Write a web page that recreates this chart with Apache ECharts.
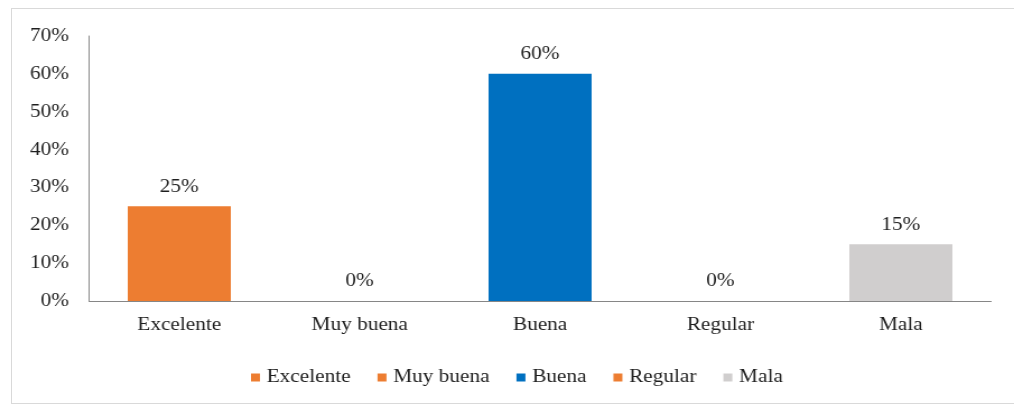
<!DOCTYPE html>
<html>
<head>
<meta charset="utf-8">
<script src="https://cdn.jsdelivr.net/npm/echarts@6/dist/echarts.min.js"></script>
<style>
  html, body { margin: 0; padding: 0; background: #fff; overflow: hidden; }
  #frame { position: absolute; left: 11px; top: 8px; width: 1010px; height: 396px; border: 1px solid #d9d9d9; box-sizing: border-box; }
  /* the chart is laid out narrower and widened on screen, giving the wide serif lettering */
  #chart { position: absolute; left: 0; top: 0; width: 905px; height: 409px; transform: scaleX(1.1205); transform-origin: 0 0; }
</style>
</head>
<body>
<div id="frame"></div>
<div id="chart"></div>
<script>
// Rating categories and their share of responses (%)
const categories = ['Excelente', 'Muy buena', 'Buena', 'Regular', 'Mala'];
const values = [25, 0, 60, 0, 15];
const colors = ['#ED7D31', '#ED7D31', '#0070C0', '#ED7D31', '#D0CECE'];
const yTicks = [0, 10, 20, 30, 40, 50, 60, 70];

const font = 'Liberation Serif';
const ink = '#1e1e1e';

// One series per category so each gets its own legend entry;
// barGap -100% keeps them centred on their category slot.
const series = categories.map((name, i) => ({
  name: name,
  type: 'bar',
  barWidth: 92,
  barGap: '-100%',
  itemStyle: { color: colors[i] },
  label: {
    show: true,
    position: 'top',
    distance: 10,
    formatter: p => p.value + '%',
    fontFamily: font,
    fontSize: 19,
    color: ink
  },
  data: categories.map((c, j) => (j === i ? values[i] : '-'))
}));

const chart = echarts.init(document.getElementById('chart'), null, { renderer: 'canvas' });
chart.setOption({
  animation: false,
  grid: { left: 79.5, right: 20.5, top: 36, bottom: 108 },
  legend: {
    bottom: 17,
    left: 219,
    itemWidth: 8,
    itemHeight: 8,
    itemGap: 24,
    icon: 'rect',
    textStyle: { fontFamily: font, fontSize: 19, color: ink, padding: [0, 0, 0, 1] },
    data: categories
  },
  xAxis: {
    type: 'category',
    data: categories,
    axisLine: { lineStyle: { color: '#868686', width: 1 } },
    axisTick: { show: false },
    axisLabel: { fontFamily: font, fontSize: 19, color: ink, margin: 15 }
  },
  yAxis: {
    type: 'value',
    min: yTicks[0],
    max: yTicks[yTicks.length - 1],
    interval: 10,
    axisLine: { show: true, lineStyle: { color: '#868686', width: 1 } },
    axisTick: { show: false },
    splitLine: { show: false },
    axisLabel: { fontFamily: font, fontSize: 19, color: ink, margin: 18, formatter: v => v + '%' }
  },
  series: series
});
</script>
</body>
</html>
